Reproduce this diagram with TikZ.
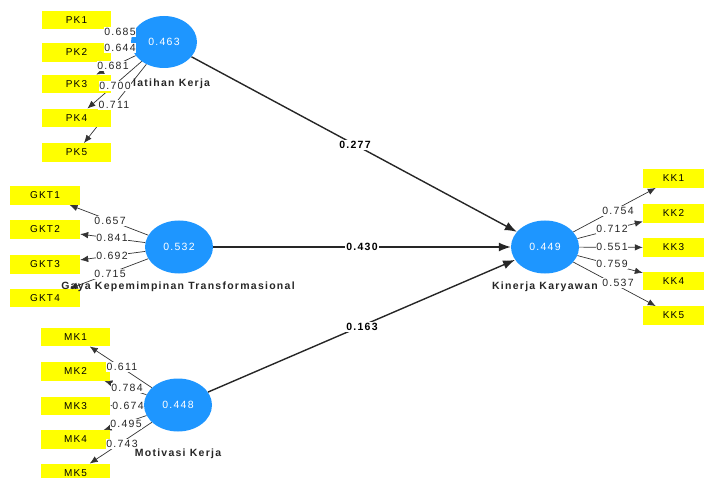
\documentclass[tikz,border=0pt]{standalone}
\usepackage{fontspec}
\setmainfont[LetterSpace=12]{Liberation Sans}
\usetikzlibrary{arrows.meta,shapes.geometric,backgrounds}
\definecolor{lvblue}{RGB}{30,150,255}
\definecolor{indyellow}{RGB}{255,255,0}
\tikzset{
  ind/.style={fill=indyellow, minimum height=18.5pt, inner sep=0pt, font=\fontsize{10}{11}\selectfont},
  lv/.style={ellipse, fill=lvblue, minimum width=68pt, minimum height=53pt, inner sep=0pt, text=white, font=\fontsize{10.5}{11}\selectfont},
  ld/.style={fill=white, inner sep=0.8pt, text=black!85, font=\fontsize{10.5}{11}\selectfont},
  sl/.style={fill=white, inner sep=1pt, font=\bfseries\fontsize{10.5}{11}\selectfont},
  lvname/.style={inner sep=0pt, text=black!85, font=\bfseries\fontsize{10.5}{11}\selectfont},
  ldarrow/.style={-{Latex[length=8pt,width=6.5pt]}, line width=0.7pt, black!80},
  strarrow/.style={-{Latex[length=12pt,width=9pt]}, line width=1.4pt, black!85}
}
\begin{document}
\begin{tikzpicture}[x=1pt,y=-1pt]
\useasboundingbox (0,0) rectangle (706,478);
% latent variables
\node[lv, minimum width=66pt, minimum height=52pt] (c1) at (164,42) {0.463};
\node[lv] (c2) at (179,247) {0.532};
\node[lv] (c3) at (178,405) {0.448};
\node[lv] (c4) at (545,247) {0.449};
% indicators
\foreach \n/\y in {1/20,2/52.5,3/84,4/118,5/152.5}
  \node[ind, minimum width=69pt] (pk\n) at (76.5,\y) {PK\n};
\foreach \n/\y in {1/195.5,2/229.5,3/264.5,4/298}
  \node[ind, minimum width=70pt] (gkt\n) at (45,\y) {GKT\n};
\foreach \n/\y in {1/337,2/371.5,3/406,4/439.5,5/473}
  \node[ind, minimum width=69pt] (mk\n) at (75.5,\y) {MK\n};
\foreach \n/\y in {1/178.5,2/213.5,3/247.5,4/281,5/315.5}
  \node[ind, minimum width=61pt] (kk\n) at (673.5,\y) {KK\n};
% connectors behind
\begin{scope}[on background layer]
  \foreach \n in {1,...,5} \draw[ldarrow] (c1) -- (pk\n);
  \foreach \n in {1,...,4} \draw[ldarrow] (c2) -- (gkt\n);
  \foreach \n in {1,...,5} \draw[ldarrow] (c3) -- (mk\n);
  \foreach \n in {1,...,5} \draw[ldarrow] (c4) -- (kk\n);
  \draw[strarrow] (c1) -- (c4);
  \draw[strarrow] (c2) -- (c4);
  \draw[strarrow] (c3) -- (c4);
\end{scope}
% loading labels
\node[ld] (l11) at (120,32) {0.685};
\node[ld] (l12) at (120,48) {0.644};
\node[ld] (l13) at (113,66) {0.681};
\node[ld] (l14) at (115,86) {0.700};
\node[ld] (l15) at (114,105) {0.711};
\node[ld] (l21) at (110,221) {0.657};
\node[ld] (l22) at (112,238) {0.841};
\node[ld] (l23) at (112,256) {0.692};
\node[ld] (l24) at (110,274) {0.715};
\node[ld] (l31) at (122,367) {0.611};
\node[ld] (l32) at (127,388) {0.784};
\node[ld] (l33) at (128,406) {0.674};
\node[ld] (l34) at (126,424) {0.495};
\node[ld] (l35) at (122,444) {0.743};
\node[ld] (l41) at (618,211) {0.754};
\node[ld] (l42) at (612,229) {0.712};
\node[ld] (l43) at (612,247) {0.551};
\node[ld] (l44) at (612,264) {0.759};
\node[ld] (l45) at (618,283) {0.537};
% path coefficients
\node[sl] (p1) at (355,145) {0.277};
\node[sl] (p2) at (362,247) {0.430};
\node[sl] (p3) at (362,327) {0.163};
% construct names
\node[lvname, anchor=west] (n1) at (133,84) {latihan Kerja};
\node[lvname] (n2) at (178,287) {Gaya Kepemimpinan Transformasional};
\node[lvname] (n3) at (178,454) {Motivasi Kerja};
\node[lvname] (n4) at (545,287) {Kinerja Karyawan};
\end{tikzpicture}
\end{document}
